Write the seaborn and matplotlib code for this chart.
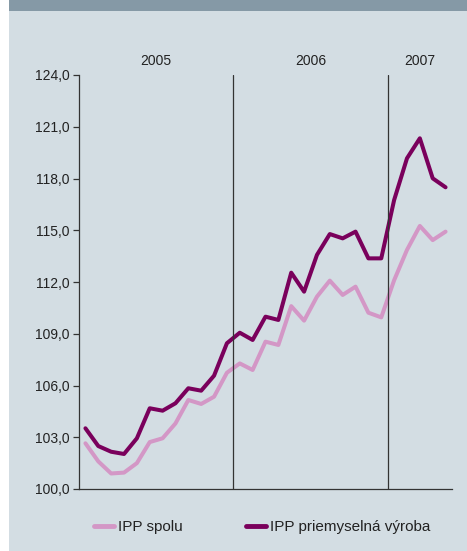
import numpy as np
import pandas as pd
import matplotlib.pyplot as plt
import matplotlib.patches as patches
import seaborn as sns

# monthly index values, Jan 2005 - May 2007
months = list(range(29))
ipp_spolu = [102.65, 101.6, 100.9, 100.95, 101.5, 102.72, 102.94, 103.8, 105.16, 104.93, 105.35, 106.74,
             107.28, 106.9, 108.54, 108.35, 110.6, 109.76, 111.15, 112.08, 111.25, 111.73, 110.22, 109.95,
             112.1, 113.86, 115.25, 114.43, 114.92]
ipp_vyroba = [103.52, 102.49, 102.16, 102.03, 102.94, 104.68, 104.54, 104.97, 105.84, 105.7, 106.57, 108.45,
              109.06, 108.64, 109.99, 109.8, 112.54, 111.44, 113.57, 114.78, 114.53, 114.92, 113.37, 113.37,
              116.75, 119.17, 120.33, 118.01, 117.49]
years = ['2005', '2006', '2007']
year_centers = [5.5, 17.5, 26.0]
year_breaks = [11.5, 23.5]
yticks = [100, 103, 106, 109, 112, 115, 118, 121, 124]
series_names = ['IPP spolu', 'IPP priemyselná výroba']

df = pd.DataFrame({
    'mesiac': months * 2,
    'hodnota': ipp_spolu + ipp_vyroba,
    'rad': [series_names[0]] * 29 + [series_names[1]] * 29,
})

bg = '#d3dde3'
sns.set_style('ticks')
plt.rcParams['font.family'] = ['Liberation Sans', 'DejaVu Sans']

fig = plt.figure(figsize=(4.67, 5.51), dpi=100)
fig.patch.set_facecolor('white')
# panel background and top band
fig.patches.append(patches.Rectangle((9 / 467, 0), 1, 1, transform=fig.transFigure,
                                     facecolor=bg, edgecolor='none', zorder=-2))
fig.patches.append(patches.Rectangle((9 / 467, 1 - 11 / 551), 1, 11 / 551, transform=fig.transFigure,
                                     facecolor='#8599a6', edgecolor='none', zorder=-1))

ax = fig.add_axes([79 / 467, 1 - 489 / 551, 373 / 467, 414 / 551])
ax.set_facecolor(bg)

sns.lineplot(data=df, x='mesiac', y='hodnota', hue='rad', ax=ax,
             palette={series_names[0]: '#d397c6', series_names[1]: '#7a005c'},
             linewidth=2.9, legend=False)

for xb in year_breaks:
    ax.axvline(xb, color='#333333', linewidth=0.9)
for yr, xc in zip(years, year_centers):
    ax.text(xc, 124.4, yr, ha='center', va='bottom', fontsize=10, color='#222222')

ax.set_xlim(-0.5, 28.5)
ax.set_ylim(100, 124)
ax.set_yticks(yticks)
ax.set_yticklabels([f'{v},0' for v in yticks], fontsize=10, color='#222222')
ax.set_xticks([])
ax.set_xlabel('')
ax.set_ylabel('')
ax.tick_params(axis='y', length=4, width=0.9, color='#333333', pad=3)
sns.despine(ax=ax)
ax.spines['left'].set_color('#333333')
ax.spines['bottom'].set_color('#333333')
ax.spines['left'].set_linewidth(0.9)
ax.spines['bottom'].set_linewidth(0.9)

handles = [plt.Line2D([], [], color='#d397c6', linewidth=3.5),
           plt.Line2D([], [], color='#7a005c', linewidth=3.5)]
fig.legend(handles, series_names, loc='center left', bbox_to_anchor=(80 / 467, 1 - 527 / 551),
           ncol=2, frameon=False, fontsize=11, handlelength=1.35, handletextpad=0.25,
           columnspacing=4.1, labelcolor='#222222')

fig.savefig('out.png', dpi=100, facecolor=fig.get_facecolor())
